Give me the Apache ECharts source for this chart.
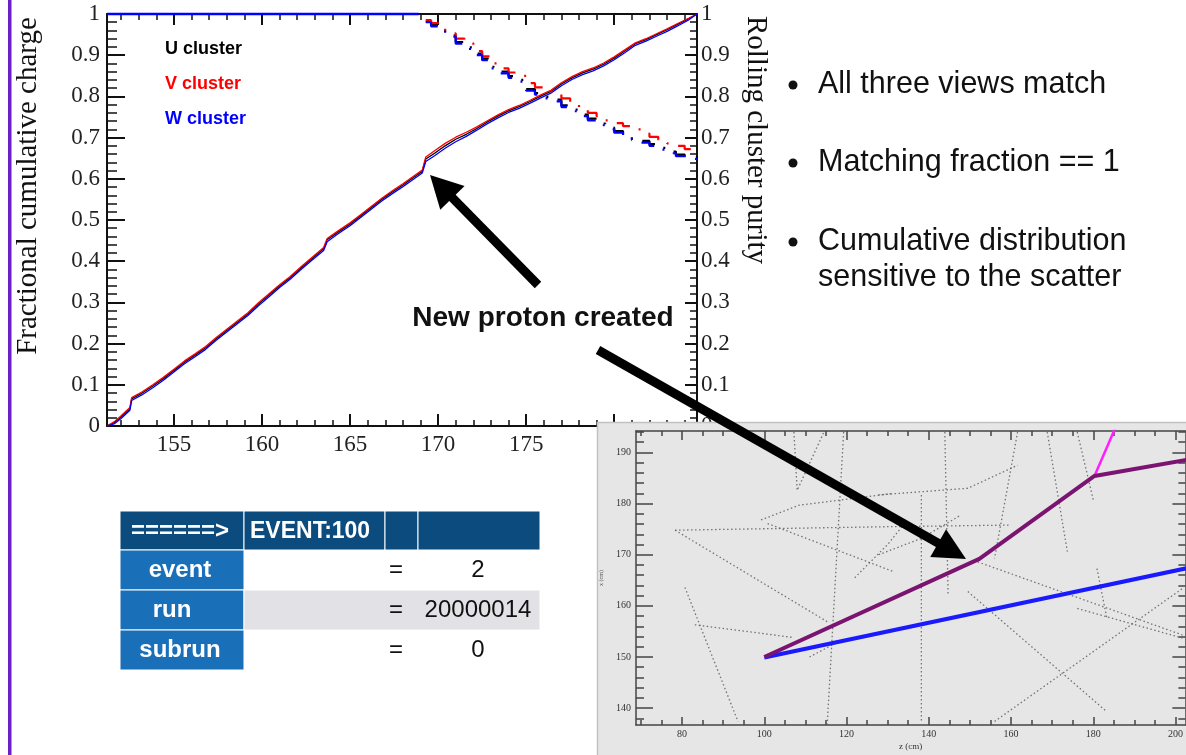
<!DOCTYPE html>
<html lang="en">
<head>
<meta charset="UTF-8">
<title>Cluster matching</title>
<script src="https://cdn.jsdelivr.net/npm/echarts@6/dist/echarts.min.js"></script>
<style>
  html, body { margin: 0; padding: 0; background: #fff; }
  #main { width: 1186px; height: 755px; }
</style>
</head>
<body>
<div id="main"></div>
<script type="text/javascript">
// ---- cumulative charge vs z (cm) ----
var cumZ = [151.2,151.6,152.0,152.5,152.6,153.2,153.8,154.4,155.0,155.6,156.2,156.8,157.4,158.0,158.6,
            159.2,159.8,160.4,161.0,161.6,162.2,162.8,163.5,163.7,164.3,165.0,165.6,166.2,166.8,167.4,
            168.0,168.6,169.1,169.3,169.8,170.4,171.0,171.6,172.2,172.8,173.4,174.0,174.6,175.2,175.8,
            176.4,177.0,177.6,178.2,178.8,179.4,180.0,180.6,181.2,181.8,182.4,183.0,183.6,184.2,184.7];
var cumU = [0,0.008,0.022,0.042,0.066,0.080,0.097,0.115,0.135,0.155,0.172,0.190,0.212,0.232,0.252,
            0.272,0.296,0.318,0.340,0.360,0.383,0.405,0.430,0.452,0.470,0.490,0.510,0.530,0.550,0.568,
            0.585,0.603,0.618,0.648,0.662,0.680,0.696,0.708,0.722,0.738,0.752,0.765,0.775,0.787,0.800,
            0.812,0.830,0.845,0.857,0.866,0.878,0.893,0.910,0.928,0.938,0.950,0.962,0.975,0.988,1.0];
var cumV = [0,0.010,0.025,0.045,0.069,0.083,0.100,0.118,0.138,0.158,0.175,0.193,0.215,0.235,0.255,
            0.275,0.299,0.321,0.343,0.363,0.386,0.408,0.433,0.455,0.473,0.493,0.513,0.533,0.553,0.571,
            0.588,0.606,0.621,0.653,0.668,0.686,0.701,0.713,0.726,0.741,0.755,0.768,0.778,0.790,0.803,
            0.815,0.833,0.848,0.860,0.869,0.881,0.896,0.913,0.930,0.940,0.952,0.964,0.977,0.989,1.0];
var cumW = [0,0.005,0.018,0.038,0.062,0.076,0.093,0.111,0.131,0.151,0.168,0.186,0.208,0.228,0.248,
            0.268,0.292,0.314,0.336,0.356,0.379,0.401,0.426,0.447,0.466,0.486,0.506,0.526,0.546,0.564,
            0.581,0.599,0.614,0.642,0.656,0.674,0.690,0.703,0.718,0.734,0.748,0.761,0.771,0.783,0.796,
            0.808,0.826,0.841,0.853,0.862,0.874,0.889,0.906,0.924,0.934,0.946,0.958,0.971,0.985,1.0];

// ---- rolling cluster purity ----
var purFlatZ = [151.2, 168.9];
var purFlat = [1, 1];
var purZ = [169.3,169.6,170.0,170.4,171.0,171.5,172.0,172.5,173.0,173.5,174.0,174.5,175.0,175.5,176.0,176.5,
            177.0,177.5,178.0,178.5,179.0,179.5,180.0,180.5,181.0,181.5,182.0,182.5,183.0,183.5,184.0,184.7];
var purU = [0.982,0.973,0.960,0.948,0.932,0.919,0.904,0.892,0.872,0.860,0.849,0.840,0.818,0.808,0.799,0.792,
            0.778,0.768,0.756,0.746,0.734,0.724,0.716,0.708,0.698,0.692,0.684,0.675,0.666,0.659,0.652,0.642];
var purV = [0.985,0.978,0.965,0.953,0.940,0.929,0.910,0.897,0.880,0.868,0.858,0.850,0.832,0.822,0.812,0.806,
            0.795,0.785,0.770,0.760,0.752,0.742,0.735,0.728,0.720,0.710,0.702,0.695,0.686,0.680,0.672,0.664];
var purW = [0.980,0.970,0.957,0.945,0.928,0.915,0.900,0.888,0.868,0.856,0.845,0.836,0.814,0.804,0.795,0.788,
            0.774,0.764,0.752,0.742,0.730,0.720,0.712,0.704,0.694,0.688,0.680,0.671,0.662,0.655,0.648,0.638];

var clusterNames = ['U cluster', 'V cluster', 'W cluster'];
var clusterColors = ['#000000', '#ff0000', '#0000ff'];

// axis ticks
var xMajor = [155, 160, 165, 170, 175, 180];
var xMinor = [152,153,154,156,157,158,159,161,162,163,164,166,167,168,169,171,172,173,174,176,177,178,179,181,182,183,184];
var evXMajor = [80, 100, 120, 140, 160, 180, 200];
var evXMinor = [70,75,85,90,95,105,110,115,125,130,135,145,150,155,165,170,175,185,190,195];
var evYMajor = [140, 150, 160, 170, 180, 190];
var evYMinor = [138,142,144,146,148,152,154,156,158,162,164,166,168,172,174,176,178,182,184,186,188,192,194];

// ---- event display (z, x in cm) ----
var trackPurple = [[100, 150], [152.3, 169.2], [180.3, 185.4], [203, 188.6]];
var trackBlue = [[100, 149.9], [203, 167.4]];
var trackMagenta = [[180.3, 185.4], [186, 196]];
var cosmicTracks = [
  [[78.3, 174.8], [131.4, 175.5], [160, 175.8]],
  [[78.3, 174.8], [115.3, 156.9]],
  [[80.7, 163.6], [93.6, 137.4]],
  [[83.1, 156.3], [107.2, 153.8]],
  [[119.3, 194], [115.3, 136.7]],
  [[107.2, 194], [108, 182.6], [114.5, 194]],
  [[99.2, 176.8], [108.5, 179.7], [131.4, 182]],
  [[100.8, 176.1], [131.4, 166.7]],
  [[156, 137.4], [201.7, 163.4]],
  [[149.5, 162.8], [183.3, 139.3]],
  [[138.2, 181.7], [138.2, 137.4]],
  [[143.9, 194], [144.7, 162.1]],
  [[168.8, 194], [173.7, 170.6]],
  [[176.1, 194], [180.1, 180.4]],
  [[151.9, 168.6], [201.7, 154.3]],
  [[127.8, 181.7], [149.5, 183], [161.6, 187.5]],
  [[127.8, 170], [138.2, 173.2], [147.9, 177.8]],
  [[161.6, 194], [156, 169.3]],
  [[176.1, 159.5], [201.7, 153.7]],
  [[180.9, 167.3], [183.3, 157.6]],
  [[122, 165.5], [130, 172], [134, 176]],
  [[111, 150], [118, 153]]
];

// ---- slide text ----
var bulletLines = [['All three views match'], ['Matching fraction == 1'], ['Cumulative distribution', 'sensitive to the scatter']];
var tableHeader = ['======>', 'EVENT:100', '', ''];
var tableKeys = ['event', 'run', 'subrun'];
var tableVals = ['2', '20000014', '0'];

var SERIF = '"Liberation Serif", "Times New Roman", serif';
var SANS = '"Liberation Sans", Arial, Helvetica, sans-serif';
var INK = '#111';

function pairs(xs, ys) { return xs.map(function (x, i) { return [x, ys[i]]; }); }

function frameX(grid, pos, min, max, ticks, len, w, col, labels, extra) {
  var a = {
    gridIndex: grid, type: 'value', position: pos, min: min, max: max,
    axisLine: { show: w > 0, onZero: false, lineStyle: { color: col, width: w } },
    axisTick: { show: true, inside: true, length: len, customValues: ticks, lineStyle: { color: col, width: w > 0 ? w : 1.5 } },
    axisLabel: labels || { show: false },
    splitLine: { show: false }
  };
  return Object.assign(a, extra || {});
}

var chart = echarts.init(document.getElementById('main'));

var series = [];
[cumU, cumV, cumW].forEach(function (vals, i) {
  series.push({
    name: clusterNames[i], type: 'line', xAxisIndex: 0, yAxisIndex: 0,
    data: pairs(cumZ, vals), symbol: 'none', z: 3,
    lineStyle: { color: clusterColors[i], width: 1.3 }, itemStyle: { color: clusterColors[i] }
  });
});
series.push({
  name: 'W cluster', type: 'line', xAxisIndex: 0, yAxisIndex: 1, data: pairs(purFlatZ, purFlat),
  symbol: 'none', clip: false, z: 3, lineStyle: { color: '#0000ff', width: 2.5 }
});
[purU, purV, purW].forEach(function (vals, i) {
  series.push({
    name: clusterNames[i], type: 'line', xAxisIndex: 0, yAxisIndex: 1, step: 'end',
    data: pairs(purZ, vals), symbol: 'none', z: 3,
    lineStyle: { color: clusterColors[i], width: 2.2, type: [16, 12, 2, 12] }
  });
});
// event display
series.push({
  name: 'cosmics', type: 'lines', coordinateSystem: 'cartesian2d', xAxisIndex: 4, yAxisIndex: 2,
  polyline: true, z: 6, silent: true,
  data: cosmicTracks.map(function (t) { return { coords: t }; }),
  lineStyle: { color: '#666', width: 1.3, type: [1.5, 2.5], opacity: 0.9 }
});
series.push({ name: 'track blue', type: 'line', xAxisIndex: 4, yAxisIndex: 2, data: trackBlue, symbol: 'none', z: 7,
  lineStyle: { color: '#1a1aff', width: 4 } });
series.push({ name: 'track magenta', type: 'line', xAxisIndex: 4, yAxisIndex: 2, data: trackMagenta, symbol: 'none', z: 7,
  lineStyle: { color: '#ff1eff', width: 2.5 } });
series.push({ name: 'track purple', type: 'line', xAxisIndex: 4, yAxisIndex: 2, data: trackPurple, symbol: 'none', z: 7,
  lineStyle: { color: '#7a1470', width: 4 } });

var evLabel = { show: true, customValues: evXMajor, margin: 4, fontFamily: SERIF, fontSize: 10, color: '#333' };
var evYLabel = { show: true, customValues: evYMajor, margin: 5, fontFamily: SERIF, fontSize: 10, color: '#333' };

var xAxes = [
  frameX(0, 'bottom', 151.2, 184.7, xMajor, 12, 2, INK,
    { show: true, customValues: xMajor, margin: 7, fontFamily: SERIF, fontSize: 23, color: '#222' }),
  frameX(0, 'top', 151.2, 184.7, xMajor, 11, 2, INK),
  frameX(0, 'bottom', 151.2, 184.7, xMinor, 6, 0, INK),
  frameX(0, 'top', 151.2, 184.7, xMinor, 6, 0, INK),
  frameX(1, 'bottom', 68.8, 202.4, evXMajor, 8, 1.5, '#444', evLabel,
    { z: 5, name: 'z (cm)', nameLocation: 'middle', nameGap: 17, nameTextStyle: { fontFamily: SERIF, fontSize: 9, color: '#333' } }),
  frameX(1, 'top', 68.8, 202.4, evXMajor, 9, 1.5, '#444', null, { z: 5 }),
  frameX(1, 'bottom', 68.8, 202.4, evXMinor, 5, 0, '#444', null, { z: 5 }),
  frameX(1, 'top', 68.8, 202.4, evXMinor, 5, 0, '#444', null, { z: 5 })
];

function mainY(pos, tickLen, minorLen, labelMargin) {
  return {
    gridIndex: 0, type: 'value', position: pos, min: 0, max: 1, interval: 0.1,
    axisLine: { show: true, onZero: false, lineStyle: { color: INK, width: 2 } },
    axisTick: { show: true, inside: true, length: tickLen, lineStyle: { color: INK, width: 2 } },
    minorTick: { show: true, splitNumber: 5, length: minorLen, lineStyle: { color: INK, width: 1.5 } },
    axisLabel: { margin: labelMargin, fontFamily: SERIF, fontSize: 23, color: '#222' },
    splitLine: { show: false }
  };
}
var yAxes = [
  mainY('left', 18, 10, 7),
  mainY('right', 12, 7, 4),
  frameX(1, 'left', 136.7, 194.2, evYMajor, 17, 1.5, '#444', evYLabel,
    { z: 5, name: 'x (cm)', nameLocation: 'middle', nameGap: 32, nameRotate: 90, nameTextStyle: { fontFamily: SERIF, fontSize: 6, color: '#555' } }),
  frameX(1, 'left', 136.7, 194.2, evYMinor, 8, 0, '#444', null, { z: 5 }),
  frameX(1, 'right', 136.7, 194.2, evYMajor, 13, 1.5, '#444', null, { z: 5 }),
  frameX(1, 'right', 136.7, 194.2, evYMinor, 7, 0, '#444', null, { z: 5 })
];

// slide decorations: border, panel, arrows, table, bullets
var graphics = [];
graphics.push({ type: 'rect', shape: { x: 8, y: 0, width: 3.5, height: 755 }, style: { fill: '#6a1fc8' }, z: 1 });
graphics.push({ type: 'rect', shape: { x: 597.5, y: 422.5, width: 600, height: 340 }, style: { fill: '#e6e6e6', stroke: '#c2c2c2', lineWidth: 1.5 }, z: 3 });

graphics.push({ type: 'text', x: 28, y: 186, rotation: Math.PI / 2,
  style: { text: 'Fractional cumulative charge', fontFamily: SERIF, fontSize: 29, fill: '#111', align: 'center', verticalAlign: 'middle' }, z: 2 });
graphics.push({ type: 'text', x: 756, y: 140, rotation: -Math.PI / 2,
  style: { text: 'Rolling cluster purity', fontFamily: SERIF, fontSize: 29, fill: '#111', align: 'center', verticalAlign: 'middle' }, z: 2 });
graphics.push({ type: 'text', x: 543, y: 318,
  style: { text: 'New proton created', fontFamily: SANS, fontWeight: 'bold', fontSize: 28, fill: '#111', align: 'center', verticalAlign: 'middle' }, z: 10 });

function arrow(x0, y0, tx, ty, headLen, halfW, w) {
  var dx = tx - x0, dy = ty - y0, L = Math.sqrt(dx * dx + dy * dy);
  var ux = dx / L, uy = dy / L, bx = tx - ux * headLen, by = ty - uy * headLen;
  graphics.push({ type: 'line', shape: { x1: x0, y1: y0, x2: bx + ux * 2, y2: by + uy * 2 }, style: { stroke: '#000', lineWidth: w }, z: 12 });
  graphics.push({ type: 'polygon', shape: { points: [[tx, ty], [bx - uy * halfW, by + ux * halfW], [bx + uy * halfW, by - ux * halfW]] },
    style: { fill: '#000' }, z: 12 });
}
arrow(538, 285, 430, 175, 32, 17, 9);
arrow(598, 350, 966, 559, 32, 16, 9);

var bulletY = [85, 163, 242];
bulletLines.forEach(function (lines, i) {
  graphics.push({ type: 'circle', shape: { cx: 793, cy: bulletY[i], r: 4.5 }, style: { fill: '#111' }, z: 2 });
  lines.forEach(function (t, j) {
    graphics.push({ type: 'text', x: 818, y: bulletY[i] + j * 36,
      style: { text: t, fontFamily: SANS, fontSize: 30.5, fill: '#111', align: 'left', verticalAlign: 'middle' }, z: 2 });
  });
});

var colX = [120, 244, 385, 418, 540];
var headTop = 511, headH = 39, rowH = 40;
for (var c = 0; c < 4; c++) {
  graphics.push({ type: 'rect', shape: { x: colX[c], y: headTop, width: colX[c + 1] - colX[c], height: headH },
    style: { fill: '#0b4b7d', stroke: '#ffffff', lineWidth: 1 }, z: 2 });
}
graphics.push({ type: 'text', x: 180, y: headTop + headH / 2 + 1,
  style: { text: tableHeader[0], fontFamily: SANS, fontWeight: 'bold', fontSize: 24, fill: '#fff', align: 'center', verticalAlign: 'middle' }, z: 3 });
graphics.push({ type: 'text', x: 250, y: headTop + headH / 2 + 1,
  style: { text: tableHeader[1], fontFamily: SANS, fontWeight: 'bold', fontSize: 23, fill: '#fff', align: 'left', verticalAlign: 'middle' }, z: 3 });
tableKeys.forEach(function (k, r) {
  var y0 = headTop + headH + r * rowH;
  graphics.push({ type: 'rect', shape: { x: colX[0], y: y0, width: colX[1] - colX[0], height: rowH },
    style: { fill: '#1a70b8', stroke: '#ffffff', lineWidth: 1 }, z: 2 });
  if (r === 1) {
    graphics.push({ type: 'rect', shape: { x: colX[1], y: y0, width: colX[4] - colX[1], height: rowH },
      style: { fill: '#e2e2e6', stroke: '#ffffff', lineWidth: 1 }, z: 2 });
  }
  graphics.push({ type: 'text', x: r === 1 ? 172 : 180, y: y0 + rowH / 2,
    style: { text: k, fontFamily: SANS, fontWeight: 'bold', fontSize: 24, fill: '#fff', align: 'center', verticalAlign: 'middle' }, z: 3 });
  graphics.push({ type: 'text', x: 396, y: y0 + rowH / 2,
    style: { text: '=', fontFamily: SANS, fontSize: 24, fill: '#111', align: 'center', verticalAlign: 'middle' }, z: 3 });
  graphics.push({ type: 'text', x: 478, y: y0 + rowH / 2,
    style: { text: tableVals[r], fontFamily: SANS, fontSize: 24, fill: '#111', align: 'center', verticalAlign: 'middle' }, z: 3 });
});

var option = {
  animation: false,
  backgroundColor: '#ffffff',
  grid: [
    { left: 107, top: 14, width: 590, height: 412 },
    { left: 636, top: 431, right: -3, bottom: 30 }
  ],
  legend: {
    orient: 'vertical', left: 155, top: 35, itemGap: 17, icon: 'none', itemWidth: 0, itemHeight: 0,
    selectedMode: false,
    textStyle: { fontFamily: SANS, fontWeight: 'bold', fontSize: 18 },
    data: clusterNames.map(function (n, i) { return { name: n, textStyle: { color: clusterColors[i] } }; })
  },
  xAxis: xAxes,
  yAxis: yAxes,
  series: series,
  graphic: { elements: graphics }
};
chart.setOption(option);
</script>
</body>
</html>
